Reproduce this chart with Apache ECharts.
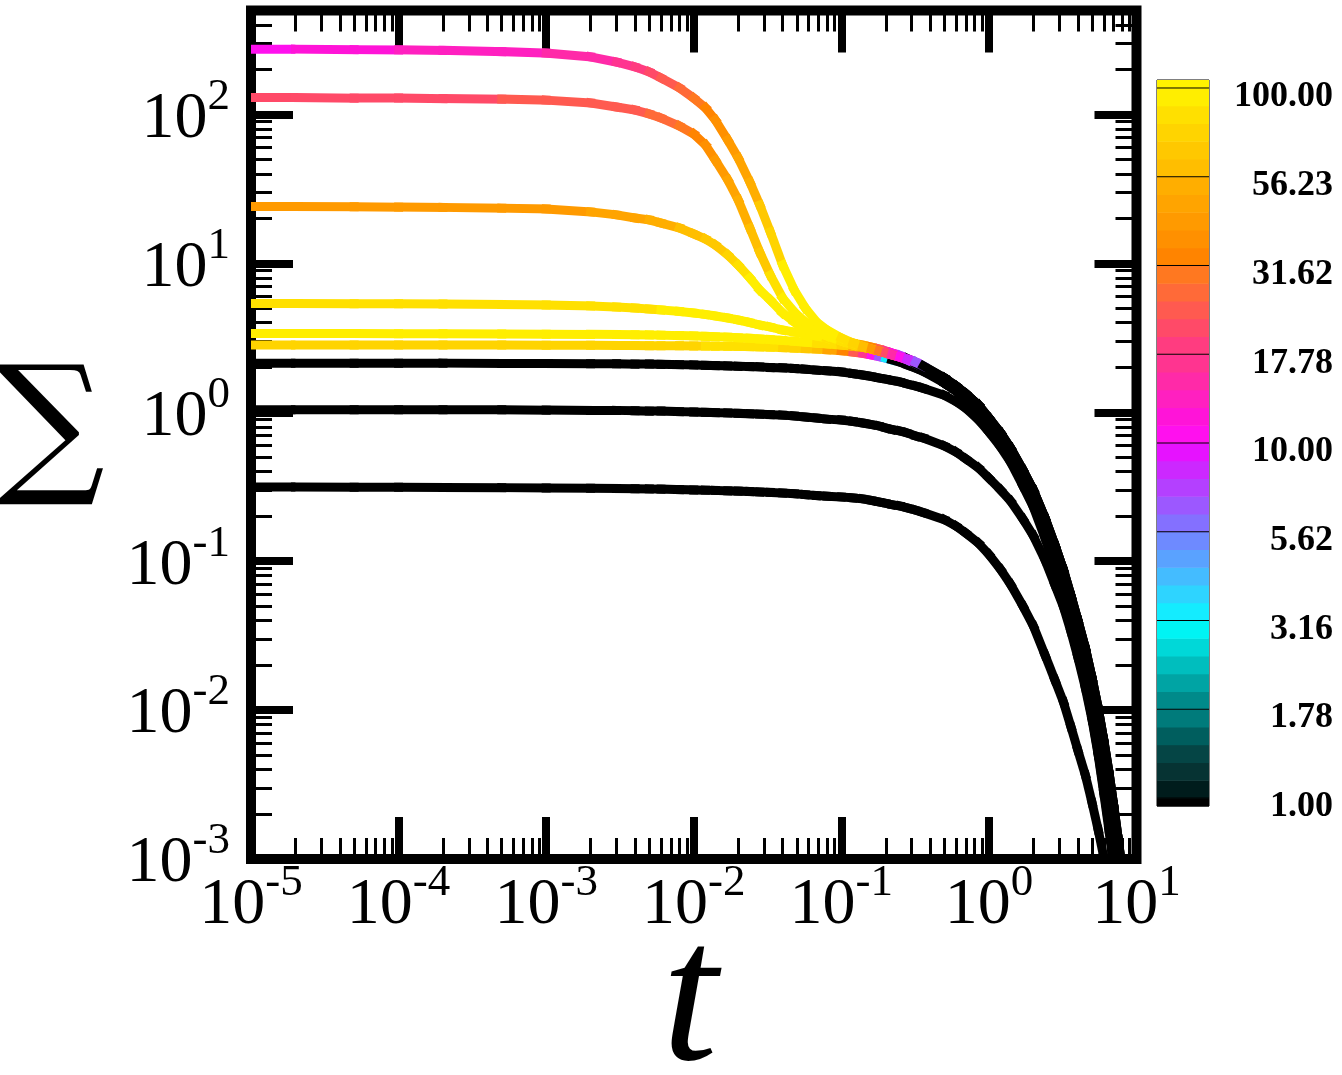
<!DOCTYPE html>
<html>
<head>
    <meta charset="utf-8"/>
    <title>Sigma(t)</title>
    <style type="text/css">
        html, body { margin: 0; padding: 0; background: #fff; }
        #main { width: 1342px; height: 1075px; }
    </style>
    <script type="text/javascript" src="https://cdn.jsdelivr.net/npm/echarts@6/dist/echarts.min.js"></script>
</head>
<body>
<div id="main"></div>
<script type="text/javascript">

    // time grid shared by all curves
    var tValues = [1e-5, 2e-5, 5e-5, 1e-4, 2e-4, 5e-4, 1e-3, 2e-3, 3e-3, 4e-3,
        5e-3, 6e-3, 8e-3, 0.01, 0.012, 0.014, 0.017, 0.02, 0.024, 0.028,
        0.033, 0.04, 0.048, 0.057, 0.068, 0.08, 0.1, 0.12, 0.14, 0.16,
        0.18, 0.2, 0.22, 0.25, 0.28, 0.32, 0.36, 0.5, 0.6, 0.7,
        0.85, 1.0, 1.2, 1.4, 1.7, 2.0, 2.4, 2.8, 3.2, 3.6,
        4.0, 4.5, 5.0, 5.5, 6.0, 6.5, 7.0, 7.5, 8.0, 9.0];

    // decay of the merged bundle (t >= 0.5)
    var tailA = [1.70, 1.50, 1.33, 1.12, 0.916, 0.726, 0.576, 0.410, 0.301, 0.195,
        0.1285, 0.0873, 0.0584, 0.0403, 0.0261, 0.0164, 0.0103, 0.0063, 0.00384, 0.0023,
        0.00138, 0.00084, 0.00035];
    var tailB = [1.57, 1.39, 1.23, 1.02, 0.822, 0.632, 0.493, 0.346, 0.250, 0.155,
        0.0988, 0.0641, 0.0416, 0.0274, 0.0172, 0.0103, 0.00611, 0.00356, 0.00213, 0.00124,
        0.00074, 0.00036, 0.00017];

    // Sigma for t = 1e-5 .. 0.36, then the bundle tail
    var sigma1 = [275, 275, 273, 272, 270, 265, 259, 244, 225, 209,
        193, 176, 151, 129, 111, 91.9, 67.5, 51.1, 35.2, 24.7,
        16.3, 9.76, 6.63, 5.02, 4.04, 3.57, 3.16, 2.92, 2.77, 2.66,
        2.58, 2.50, 2.43, 2.35, 2.28, 2.18, 2.05].concat(tailA);
    var sigma2 = [130, 130, 129, 129, 128, 127, 125, 119.6, 112.4, 107.3,
        100.9, 94.8, 83.8, 74.0, 62.5, 49.5, 36.4, 26.7, 17.3, 11.9,
        8.36, 5.86, 4.72, 4.04, 3.57, 3.26, 3.01, 2.83, 2.74, 2.66,
        2.58, 2.50, 2.44, 2.34, 2.26, 2.16, 2.04].concat(tailA);
    var sigma3 = [24.1, 24.1, 24.0, 23.9, 23.8, 23.5, 23.2, 22.2, 21.2, 20.2,
        19.6, 18.7, 17.3, 15.8, 14.6, 13.3, 11.4, 9.76, 7.99, 6.63,
        5.68, 4.65, 4.04, 3.63, 3.36, 3.16, 2.96, 2.83, 2.74, 2.66,
        2.58, 2.50, 2.43, 2.35, 2.25, 2.11, 1.99].concat(tailA);
    var sigma4 = [5.38, 5.38, 5.37, 5.36, 5.34, 5.30, 5.26, 5.18, 5.10, 5.02,
        4.94, 4.87, 4.76, 4.65, 4.54, 4.44, 4.30, 4.17, 4.01, 3.86,
        3.74, 3.57, 3.46, 3.36, 3.26, 3.16, 3.01, 2.92, 2.83, 2.74,
        2.66, 2.58, 2.50, 2.39, 2.25, 2.11, 1.96].concat(tailB);
    var sigma5 = [3.38, 3.38, 3.38, 3.37, 3.37, 3.36, 3.35, 3.34, 3.33, 3.32,
        3.31, 3.30, 3.28, 3.26, 3.24, 3.22, 3.20, 3.17, 3.14, 3.11,
        3.08, 3.04, 3.00, 2.96, 2.92, 2.88, 2.83, 2.78, 2.73, 2.68,
        2.62, 2.56, 2.50, 2.41, 2.30, 2.16, 2.00].concat(tailB);
    var sigma6 = [2.83, 2.83, 2.83, 2.83, 2.83, 2.83, 2.82, 2.82, 2.81, 2.81,
        2.80, 2.80, 2.80, 2.79, 2.79, 2.78, 2.78, 2.77, 2.76, 2.75,
        2.74, 2.72, 2.70, 2.68, 2.66, 2.63, 2.59, 2.54, 2.49, 2.43,
        2.37, 2.31, 2.25, 2.17, 2.08, 1.98, 1.88].concat(tailB);
    var sigma7 = [2.14, 2.14, 2.14, 2.14, 2.14, 2.13, 2.13, 2.12, 2.12, 2.11,
        2.11, 2.10, 2.09, 2.08, 2.07, 2.06, 2.05, 2.04, 2.03, 2.02,
        2.00, 1.99, 1.97, 1.95, 1.92, 1.90, 1.87, 1.82, 1.78, 1.74,
        1.70, 1.67, 1.64, 1.60, 1.55, 1.50, 1.45, 1.30, 1.18, 1.06,
        0.889, 0.738, 0.585, 0.464, 0.320, 0.231, 0.143, 0.090, 0.0584, 0.0373,
        0.0238, 0.0148, 0.00885, 0.00515, 0.0029, 0.00169, 0.00098, 0.00047, 0.00027, 0.00012];
    var sigma8 = [1.04, 1.04, 1.04, 1.04, 1.04, 1.04, 1.035, 1.03, 1.03, 1.025,
        1.02, 1.02, 1.01, 1.005, 1.00, 0.995, 0.99, 0.985, 0.978, 0.972,
        0.965, 0.958, 0.945, 0.93, 0.915, 0.90, 0.888, 0.868, 0.848, 0.828,
        0.809, 0.785, 0.767, 0.749, 0.726, 0.693, 0.672, 0.594, 0.541, 0.486,
        0.423, 0.362, 0.301, 0.254, 0.192, 0.148, 0.102, 0.0692, 0.0493, 0.0335,
        0.0227, 0.0141, 0.00858, 0.00499, 0.00277, 0.00157, 0.00087, 0.0004, 0.0002, 0.00008];
    var sigma9 = [0.315, 0.315, 0.314, 0.314, 0.313, 0.312, 0.310, 0.309, 0.308, 0.307,
        0.306, 0.305, 0.303, 0.301, 0.300, 0.299, 0.297, 0.296, 0.294, 0.292,
        0.290, 0.287, 0.284, 0.280, 0.276, 0.273, 0.270, 0.266, 0.262, 0.256,
        0.250, 0.245, 0.240, 0.235, 0.228, 0.220, 0.212, 0.190, 0.172, 0.154,
        0.132, 0.111, 0.0880, 0.0700, 0.0500, 0.0367, 0.0234, 0.0159, 0.0113, 0.0077,
        0.0054, 0.00366, 0.00238, 0.00157, 0.00103, 0.00062, 0.00035, 0.0002, 0.0001, 0.00003];

    // colour-bar value along each coloured curve (black once the list ends)
    var color1 = [10.5, 11.5, 11.8, 12.8, 13, 13.5, 14.5, 15.5, 17, 19,
        21, 23, 26, 29, 33, 37, 42, 47, 55, 65,
        78, 90, 96, 98, 97, 95, 88, 75, 58, 42,
        30, 22, 15, 10, 8, 6.5];
    var color2 = [21, 21, 21.5, 22, 22, 22.5, 23, 23.5, 24, 25,
        26, 27, 29, 32, 36, 40, 45, 51, 58, 68,
        80, 90, 95, 97, 96, 94, 88, 72, 52, 38,
        28, 20, 14, 10, 7.5, 6];
    var color3 = [40, 40, 40.5, 41, 41, 42, 43, 45, 47, 49,
        51, 53, 57, 61, 65, 70, 76, 83, 90, 94,
        96, 96, 95, 94, 92, 88, 78, 62, 45, 33,
        25, 18, 12, 9, 7];
    var color4 = [84, 84, 84, 84, 84, 84, 85, 86, 87, 88,
        89, 90, 92, 93, 94, 95, 96, 96, 96, 96,
        96, 95, 94, 93, 91, 88, 80, 64, 47, 34,
        25, 17, 12, 8.5];
    var color5 = [95, 95, 95, 95, 95, 95, 95, 95, 95, 95,
        95, 95, 95, 95, 95, 95, 95, 95, 95, 95,
        94, 93, 92, 90, 87, 82, 72, 56, 40, 29,
        21, 14, 9, 6.5];
    var color6 = [75, 75, 75, 75, 75, 75, 75, 75, 76, 76,
        77, 77, 78, 79, 80, 80, 81, 81, 82, 82,
        80, 78, 74, 68, 58, 45, 33, 24, 16, 10,
        6.5, 3.3];

    // colour bar: 40 bands, 1 .. 100 on a log scale, bottom to top
    var cbarTicks = [1, 1.78, 3.16, 5.62, 10, 17.78, 31.62, 56.23, 100];
    var cbarColors = [
        '#001c1c', '#063333', '#054545', '#005e5e', '#007b7b',
        '#008a8a', '#00a4a4', '#00bebe', '#00d8d8', '#00f4f4',
        '#14ecff', '#2ed4ff', '#44bcff', '#5aa2ff', '#6e8aff',
        '#8470ff', '#9c58ff', '#b440ff', '#cc28ff', '#e612ff',
        '#ff10ee', '#ff14d8', '#ff20c0', '#ff2aa8', '#ff3490',
        '#ff3c80', '#ff4a68', '#ff5a50', '#ff6a38', '#ff7820',
        '#ff8400', '#ff9000', '#ff9a00', '#ffa400', '#ffae00',
        '#ffbe00', '#ffc800', '#ffd400', '#ffe000', '#ffee00'];
    var cbarTopColor = '#fff200';

    // axis decades (exponents)
    var xMajor = [-5, -4, -3, -2, -1, 0, 1];
    var yMajor = [-3, -2, -1, 0, 1, 2];
    var yMaxValue = 500;

    var yMax = Math.log10(yMaxValue);
    var cbLo = -0.0225, cbHi = 2.0225;

    function minorOf(major, top) {
        var out = [];
        major.forEach(function (d) {
            for (var m = 2; m <= 9; m++) {
                var v = d + Math.log10(m);
                if (v < top) out.push(v);
            }
        });
        return out;
    }

    function bandColor(c) {
        if (!c || c < 1) return '#000';
        var k = Math.floor(Math.log10(c) * 20);
        if (k > 39) k = 39;
        return cbarColors[k];
    }

    var supRich = {
        b: {fontFamily: 'Liberation Serif', fontSize: 66, lineHeight: 90, color: '#000'},
        s: {fontFamily: 'Liberation Serif', fontSize: 45, lineHeight: 46, verticalAlign: 'top', color: '#000'}
    };

    function powLabel(v) {
        return '{b|10}{s|' + Math.round(v) + '}';
    }

    function tickAxis(pos, lo, hi, values, len, width, labels) {
        var ax = {
            gridIndex: 0, type: 'value', position: pos, min: lo, max: hi,
            axisLine: {show: false, onZero: false},
            axisTick: {show: true, inside: true, length: len, customValues: values,
                lineStyle: {color: '#000', width: width}},
            axisLabel: {show: false},
            splitLine: {show: false}
        };
        if (labels) {
            ax.axisLabel = {show: true, customValues: values, formatter: powLabel, rich: supRich, color: '#000'};
        }
        return ax;
    }

    function curveSeries(sig, col) {
        var data = [];
        for (var i = 0; i < tValues.length - 1; i++) {
            data.push([Math.log10(tValues[i]), Math.log10(sig[i]),
                Math.log10(tValues[i + 1]), Math.log10(sig[i + 1]),
                col && col[i] ? col[i] : 0]);
        }
        return {
            type: 'custom', coordinateSystem: 'cartesian2d', xAxisIndex: 0, yAxisIndex: 0,
            silent: true, encode: {x: [0, 2], y: [1, 3]}, data: data,
            renderItem: function (params, api) {
                var p0 = api.coord([api.value(0), api.value(1)]);
                var p1 = api.coord([api.value(2), api.value(3)]);
                var cs = params.coordSys;
                return {
                    type: 'group',
                    clipPath: {type: 'rect', shape: {x: cs.x, y: cs.y, width: cs.width, height: cs.height}},
                    children: [{
                        type: 'line',
                        shape: {x1: p0[0], y1: p0[1], x2: p1[0], y2: p1[1]},
                        style: {stroke: bandColor(api.value(4)), lineWidth: 9,
                            lineCap: params.dataIndex === 0 ? 'butt' : 'square'}
                    }]
                };
            }
        };
    }

    var cbarData = [[cbLo, 0, -1]];
    cbarColors.forEach(function (c, k) {
        cbarData.push([k * 0.05, (k + 1) * 0.05, k]);
    });
    cbarData.push([2, cbHi, 40]);

    var myChart = echarts.init(document.getElementById('main'));

    var xMain = tickAxis('bottom', -5, 1, xMajor, 42, 8, true);
    xMain.axisLabel.margin = 2;
    xMain.name = 't';
    xMain.nameLocation = 'middle';
    xMain.nameGap = 47;
    xMain.nameMoveOverlap = false;
    xMain.nameTextStyle = {fontFamily: 'Liberation Serif', fontStyle: 'italic', fontSize: 200,
        lineHeight: 200, color: '#000', padding: [0, 8, 0, 0]};

    var yMain = tickAxis('left', -3, yMax, yMajor, 42, 8, true);
    yMain.axisLabel.margin = 21;
    yMain.axisLabel.padding = [10, 0, 0, 0];
    yMain.name = '\u2211';
    yMain.nameLocation = 'middle';
    yMain.nameRotate = 0;
    yMain.nameGap = 146;
    yMain.nameMoveOverlap = false;
    yMain.nameTextStyle = {fontFamily: 'DejaVu Serif', fontSize: 154, color: '#000', padding: [0, 0, 64, 0]};

    var option = {
        animation: false,
        backgroundColor: '#fff',
        grid: [
            {left: 251, top: 10.5, right: 205.5, bottom: 216, show: true, borderWidth: 10,
                borderColor: '#000', backgroundColor: 'transparent', containLabel: false, outerBoundsMode: 'none'},
            {left: 1157, top: 80, width: 52, height: 726, show: true, borderWidth: 1,
                borderColor: '#000', backgroundColor: 'transparent', containLabel: false, outerBoundsMode: 'none'}
        ],
        xAxis: [
            xMain,
            tickAxis('top', -5, 1, xMajor, 42, 8, false),
            tickAxis('bottom', -5, 1, minorOf(xMajor, 1), 21, 3, false),
            tickAxis('top', -5, 1, minorOf(xMajor, 1), 21, 3, false),
            {gridIndex: 1, type: 'value', min: 0, max: 1, show: false}
        ],
        yAxis: [
            yMain,
            tickAxis('right', -3, yMax, yMajor, 42, 8, false),
            tickAxis('left', -3, yMax, minorOf(yMajor, yMax), 21, 3, false),
            tickAxis('right', -3, yMax, minorOf(yMajor, yMax), 21, 3, false),
            {
                gridIndex: 1, type: 'value', position: 'right', min: cbLo, max: cbHi,
                axisLine: {show: false, onZero: false},
                axisTick: {show: false},
                splitLine: {show: false},
                axisLabel: {
                    customValues: cbarTicks.map(function (v) { return Math.log10(v); }),
                    formatter: function (v) { return Math.pow(10, v).toFixed(2); },
                    align: 'right', margin: 124, verticalAlign: 'top', lineHeight: 18,
                    fontFamily: 'Liberation Serif', fontWeight: 'bold', fontSize: 36, color: '#000'
                }
            }
        ],
        series: [
            curveSeries(sigma9, null),
            curveSeries(sigma8, null),
            curveSeries(sigma7, null),
            curveSeries(sigma6, color6),
            curveSeries(sigma5, color5),
            curveSeries(sigma4, color4),
            curveSeries(sigma3, color3),
            curveSeries(sigma2, color2),
            curveSeries(sigma1, color1),
            {
                type: 'custom', coordinateSystem: 'cartesian2d', xAxisIndex: 4, yAxisIndex: 4,
                silent: true, encode: {y: [0, 1]}, data: cbarData,
                renderItem: function (params, api) {
                    var k = api.value(2);
                    var lo = api.coord([0, api.value(0)]);
                    var hi = api.coord([1, api.value(1)]);
                    var fill = k < 0 ? '#000' : (k >= 40 ? cbarTopColor : cbarColors[k]);
                    var kids = [{
                        type: 'rect',
                        shape: {x: lo[0], y: hi[1], width: hi[0] - lo[0], height: lo[1] - hi[1] + 0.5},
                        style: {fill: fill}
                    }];
                    if (k >= 0 && k % 5 === 0) {
                        kids.push({
                            type: 'line',
                            shape: {x1: lo[0], y1: lo[1], x2: hi[0], y2: lo[1]},
                            style: {stroke: '#000', lineWidth: 1}
                        });
                    }
                    return {type: 'group', children: kids};
                }
            }
        ]
    };

    myChart.setOption(option);

</script>
</body>
</html>
